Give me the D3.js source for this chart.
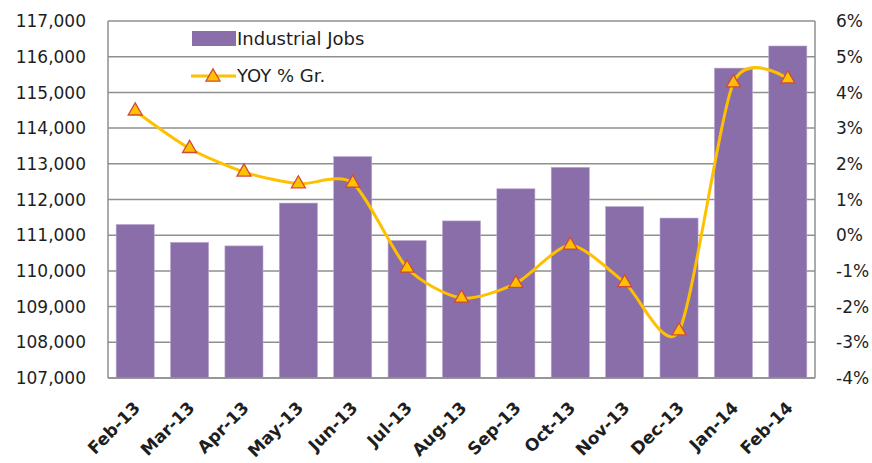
<!DOCTYPE html>
<html><head><meta charset="utf-8">
<script src="https://cdn.jsdelivr.net/npm/d3@7"></script>
<style>body{margin:0;background:#fff}svg{display:block}text{font-family:"DejaVu Sans",sans-serif}</style>
</head><body><svg id="c" width="872" height="463"></svg>
<script>
const categories = ["Feb-13","Mar-13","Apr-13","May-13","Jun-13","Jul-13","Aug-13","Sep-13","Oct-13","Nov-13","Dec-13","Jan-14","Feb-14"];
const jobs = [111300,110800,110700,111900,113200,110850,111400,112300,112900,111800,111480,115680,116300];
const yoy = [3.48,2.43,1.77,1.44,1.46,-0.92,-1.76,-1.35,-0.28,-1.33,-2.68,4.27,4.38];
const leftTicks = [107000,108000,109000,110000,111000,112000,113000,114000,115000,116000,117000];
const rightTicks = [-4,-3,-2,-1,0,1,2,3,4,5,6];

const svg = d3.select("#c");
const L=108,R=815,T=21,B=378;
const x = d3.scaleBand().domain(categories).range([L,R]).paddingInner(0.3).paddingOuter(0.15);
const yL = d3.scaleLinear().domain([107000,117000]).range([B,T]);
const yR = d3.scaleLinear().domain([-4,6]).range([B,T]);
const grid="#8f8f8f";

svg.append("g").selectAll("line").data(leftTicks).join("line")
 .attr("x1",L).attr("x2",R).attr("y1",d=>yL(d)).attr("y2",d=>yL(d))
 .attr("stroke",grid).attr("stroke-width",1.5);
svg.append("line").attr("x1",L).attr("x2",L).attr("y1",T).attr("y2",B).attr("stroke",grid).attr("stroke-width",1.5);
svg.append("line").attr("x1",R).attr("x2",R).attr("y1",T).attr("y2",B).attr("stroke",grid).attr("stroke-width",1.5);

svg.append("g").selectAll("rect").data(jobs).join("rect")
 .attr("x",(d,i)=>x(categories[i])).attr("width",x.bandwidth())
 .attr("y",d=>yL(d)).attr("height",d=>B-yL(d))
 .attr("fill","#8a6ea9").attr("stroke","#b9a8cf").attr("stroke-width",0.6);

svg.append("line").attr("x1",L).attr("x2",R).attr("y1",B).attr("y2",B).attr("stroke",grid).attr("stroke-width",1.5);

const cx=(i)=>x(categories[i])+x.bandwidth()/2;
const line=d3.line().x((d,i)=>cx(i)).y(d=>yR(d)).curve(d3.curveCardinal.tension(0.25));
svg.append("path").attr("d",line(yoy)).attr("fill","none").attr("stroke","#ffc000").attr("stroke-width",3);

const tri=d3.symbol().type(d3.symbolTriangle).size(85);
svg.append("g").selectAll("path").data(yoy).join("path")
 .attr("d",tri).attr("transform",(d,i)=>`translate(${cx(i)},${yR(d)})`)
 .attr("fill","#ffc000").attr("stroke","#d04a3a").attr("stroke-width",1.3);

const fmt=d3.format(",");
svg.append("g").selectAll("text").data(leftTicks).join("text")
 .attr("x",86).attr("y",d=>yL(d)).attr("dy","0.36em").attr("text-anchor","end")
 .attr("font-size",17).attr("fill","#1e1e1e").text(d=>fmt(d));
svg.append("g").selectAll("text").data(rightTicks).join("text")
 .attr("x",836).attr("y",d=>yR(d)).attr("dy","0.36em").attr("text-anchor","start")
 .attr("font-size",17).attr("fill","#1e1e1e").text(d=>d+"%");

svg.append("g").selectAll("text").data(categories).join("text")
 .attr("transform",d=>`translate(${x(d)+x.bandwidth()/2+6},${B+31}) rotate(-45)`)
 .attr("text-anchor","end").attr("font-size",17).attr("font-weight","bold").attr("fill","#1e1e1e").text(d=>d);

// legend
const lg=svg.append("g");
lg.append("rect").attr("x",192).attr("y",31).attr("width",44).attr("height",15).attr("fill","#8a6ea9");
lg.append("text").attr("x",237).attr("y",45).attr("font-size",18).attr("fill","#1e1e1e").text("Industrial Jobs");
lg.append("line").attr("x1",191).attr("x2",236).attr("y1",76).attr("y2",76).attr("stroke","#ffc000").attr("stroke-width",3);
lg.append("path").attr("d",tri).attr("transform","translate(213,77)").attr("fill","#ffc000").attr("stroke","#d04a3a").attr("stroke-width",1.3);
lg.append("text").attr("x",237).attr("y",82).attr("font-size",18).attr("fill","#1e1e1e").text("YOY % Gr.");
</script></body></html>
